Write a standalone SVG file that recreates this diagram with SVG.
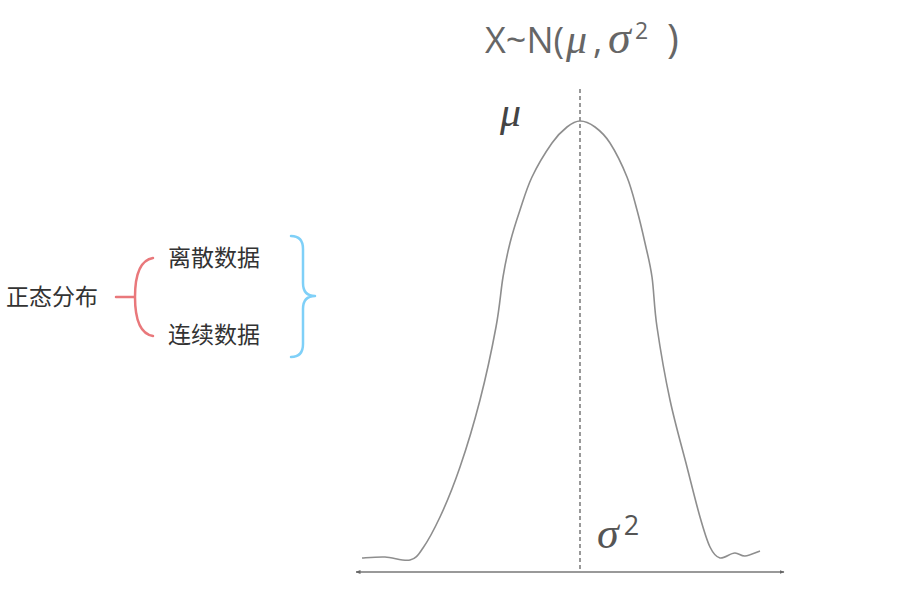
<svg xmlns="http://www.w3.org/2000/svg" width="920" height="602" viewBox="0 0 920 602">
<defs>
<style>
.cjk{font-family:"Noto Sans CJK SC","Noto Sans",sans-serif;font-size:23px;fill:#333;}
.math{font-family:"Open Sans","DejaVu Sans",sans-serif;fill:#666;}
.it{font-style:italic;}
.gr{font-family:"Liberation Serif","DejaVu Serif",serif;font-style:italic;}
.curve{fill:none;stroke:#8e8e8e;stroke-width:1.6;}
.axis{fill:none;stroke:#777;stroke-width:1.6;}
.dash{fill:none;stroke:#555;stroke-width:1.2;stroke-dasharray:4 3;}
.red{fill:none;stroke:#e9787b;stroke-width:2.5;stroke-linecap:round;}
.blue{fill:none;stroke:#7fd0f8;stroke-width:2.5;stroke-linecap:round;stroke-linejoin:round;}
</style>
<marker id="arr" viewBox="0 0 10 10" refX="9" refY="5" markerWidth="5" markerHeight="5" orient="auto-start-reverse" markerUnits="userSpaceOnUse">
<path d="M0,1 L10,5 L0,9 z" fill="#666"/>
</marker>
</defs>
<rect width="920" height="602" fill="#fff"/>

<g id="mindmap">
<g id="root"><text class="cjk" x="6" y="305">正态分布</text></g>
<g id="discrete"><text class="cjk" x="168" y="266">离散数据</text></g>
<g id="continuous"><text class="cjk" x="168" y="343">连续数据</text></g>
</g>
<g id="connectors">
<path class="red" d="M116,297 H135 M153,258 Q135,261 135,297 Q135,333 153,336"/>
<path class="blue" d="M291,236 Q303,236 303,249 V283 Q303,296 315,296 Q303,296 303,309 V344 Q303,357 291,357"/>
</g>

<g id="chart">
<path class="axis" d="M356,572 H784" marker-start="url(#arr)" marker-end="url(#arr)"/>
<path class="dash" d="M580,89 V571"/>
<path class="curve" d="M362,558 C365.8,557.8 377,556.7 385,557 C393,557.3 403.7,561.5 410,560 C416.3,558.5 418,555.2 423,548 C428,540.8 433.8,530.2 440,517 C446.2,503.8 453.3,486.5 460,467 C466.7,447.5 474,423.3 480,400 C486,376.7 492.2,347.5 496,327 C499.8,306.5 500.7,291 503,277 C505.3,263 507.2,254.2 510,243 C512.8,231.8 516.3,221 520,210 C523.7,199 526.7,188.2 532,177 C537.3,165.8 546.2,151.3 552,143 C557.8,134.7 562.3,130.7 567,127 C571.7,123.3 575.3,121 580,121 C584.7,121 590,123.3 595,127 C600,130.7 604.7,134.7 610,143 C615.3,151.3 622.5,165.8 627,177 C631.5,188.2 634,199 637,210 C640,221 642.5,231.8 645,243 C647.5,254.2 650,263 652,277 C654,291 654,306.5 657,327 C660,347.5 665,376.7 670,400 C675,423.3 682,447.5 687,467 C692,486.5 696.2,503.7 700,517 C703.8,530.3 706.7,540.2 710,547 C713.3,553.8 715.8,557 720,558 C724.2,559 730.8,552.7 735,553 C739.2,553.3 740.8,556.3 745,556 C749.2,555.7 757.5,551.8 760,551"/>
</g>

<g id="labels">
<text class="math" y="53" font-size="36"><tspan x="485">X~N(</tspan><tspan class="gr" font-size="42" x="566">μ</tspan><tspan x="593">,</tspan><tspan class="gr" font-size="46" x="608">σ</tspan><tspan font-size="23" x="635" y="39">2</tspan><tspan font-size="40" x="667" y="53">)</tspan></text>
<text class="gr" x="500" y="126" font-size="42" style="fill:#444">μ</text>
<text class="math" x="597" y="548" font-size="40" style="fill:#555"><tspan class="gr" font-size="44">σ</tspan><tspan font-size="27" dx="5" dy="-13">2</tspan></text>
</g>
</svg>
